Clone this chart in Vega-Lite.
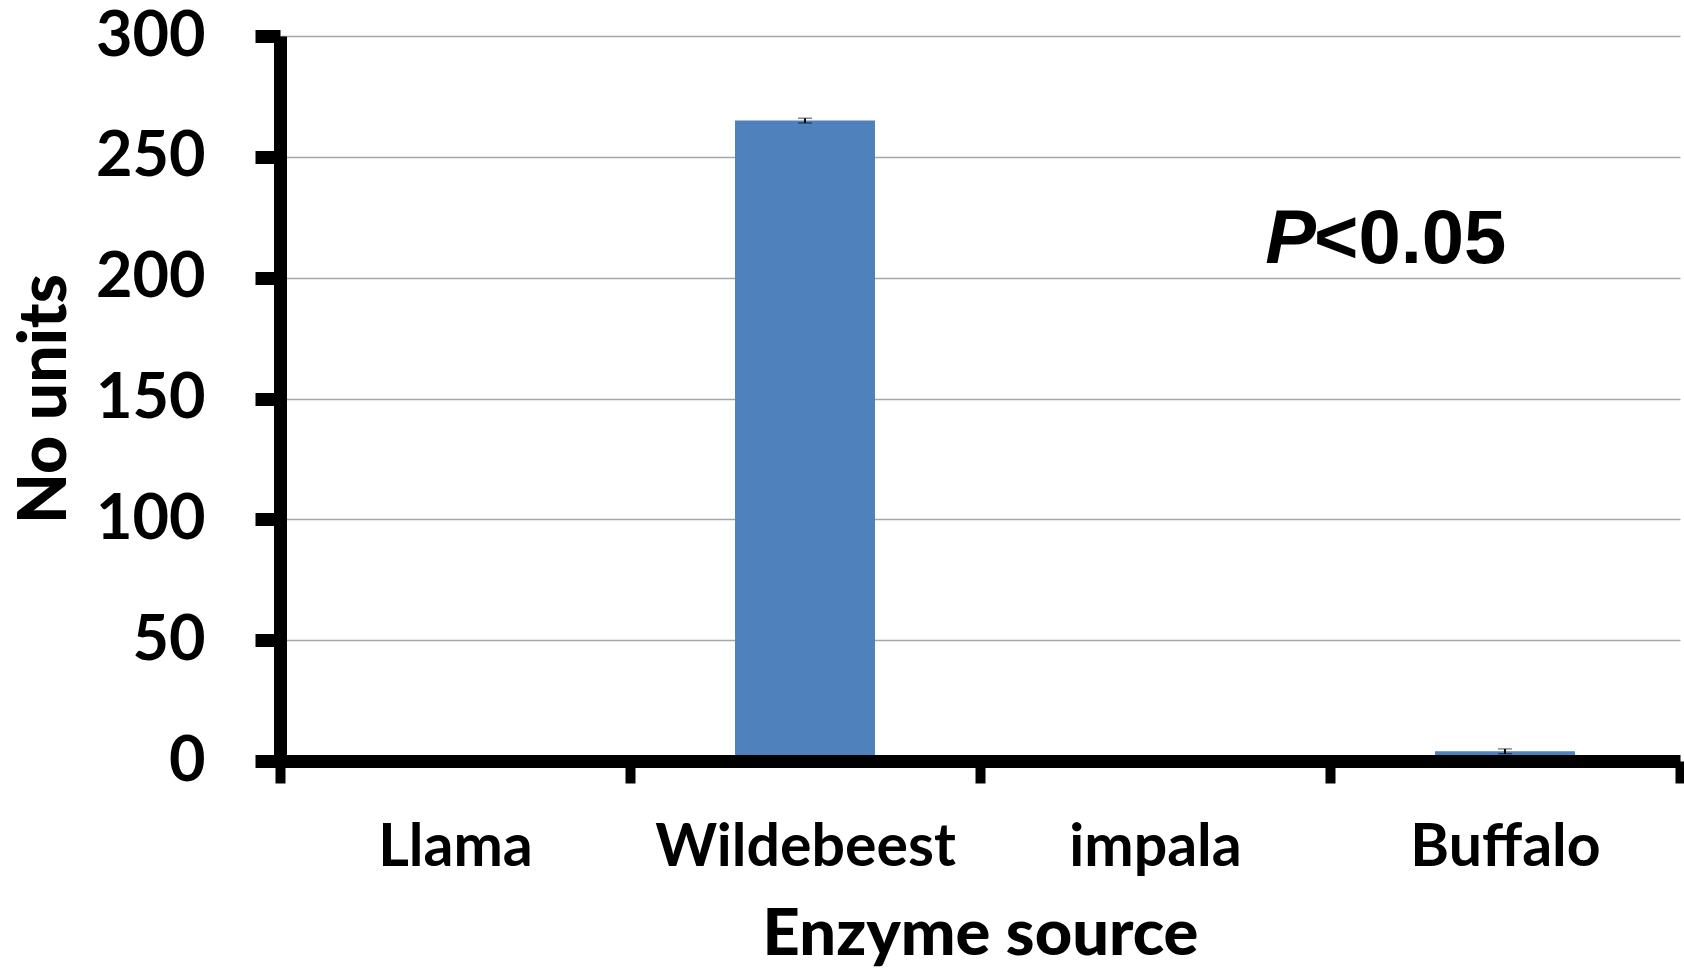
{
  "$schema": "https://vega.github.io/schema/vega-lite/v6.json",
  "width": 1400,
  "height": 725,
  "autosize": "none",
  "padding": {"left": 280, "top": 36, "right": 4, "bottom": 210},
  "background": "white",
  "data": {"values": [
    {"source": "Llama", "value": 0.5, "lo": 0.3, "hi": 0.7},
    {"source": "Wildebeest", "value": 265, "lo": 264, "hi": 266},
    {"source": "impala", "value": 0.3, "lo": 0.2, "hi": 0.4},
    {"source": "Buffalo", "value": 4, "lo": 3, "hi": 5}
  ]},
  "config": {
    "view": {"stroke": null},
    "font": "Lato"
  },
  "layer": [
    {
      "mark": {"type": "bar", "color": "#4F81BD", "width": {"band": 0.4}},
      "encoding": {
        "x": {
          "field": "source", "type": "nominal",
          "scale": {"domain": ["Llama", "Wildebeest", "impala", "Buffalo"], "paddingInner": 0, "paddingOuter": 0},
          "axis": {
            "title": "Enzyme source", "titleFont": "Lato", "titleFontSize": 65, "titleFontWeight": 900, "titleColor": "black", "titlePadding": 26,
            "labelAngle": 0, "labelFont": "Lato", "labelFontSize": 59, "labelFontWeight": "bold", "labelColor": "black", "labelPadding": 35, "labelLimit": 0,
            "domainColor": "black", "domainWidth": 13, "tickColor": "black", "tickWidth": 10, "tickSize": 22, "tickBand": "extent",
            "zindex": 1
          }
        },
        "y": {
          "field": "value", "type": "quantitative",
          "scale": {"domain": [0, 300], "nice": false},
          "axis": {
            "title": "No units", "titleFont": "Lato", "titleFontSize": 66, "titleFontWeight": 900, "titleColor": "black", "titlePadding": 16,
            "values": [0, 50, 100, 150, 200, 250, 300],
            "labelFont": "Lato", "labelFontSize": 63, "labelFontWeight": "bold", "labelColor": "black", "labelPadding": 50,
            "domainColor": "black", "domainWidth": 13, "tickColor": "black", "tickWidth": 13, "tickSize": 25,
            "grid": true, "gridColor": "#A6A6A6", "gridWidth": 1.5
          }
        }
      }
    },
    {
      "mark": {"type": "errorbar", "ticks": {"color": "black", "size": 14, "strokeWidth": 2}, "rule": {"color": "black", "strokeWidth": 2}},
      "encoding": {
        "x": {"field": "source", "type": "nominal"},
        "y": {"field": "lo", "type": "quantitative", "title": "No units"},
        "y2": {"field": "hi"}
      }
    },
    {
      "data": {"values": [{"label": "P", "cat": "Buffalo", "v": 206}]},
      "mark": {"type": "text", "font": "Liberation Sans", "fontSize": 76, "fontWeight": "bold", "fontStyle": "italic", "align": "right", "baseline": "alphabetic", "dx": -189, "color": "black"},
      "encoding": {
        "x": {"field": "cat", "type": "nominal"},
        "y": {"field": "v", "type": "quantitative"},
        "text": {"field": "label"}
      }
    },
    {
      "data": {"values": [{"label": "<0.05", "cat": "Buffalo", "v": 206}]},
      "mark": {"type": "text", "font": "Liberation Sans", "fontSize": 76, "fontWeight": "bold", "align": "left", "baseline": "alphabetic", "dx": -191, "color": "black"},
      "encoding": {
        "x": {"field": "cat", "type": "nominal"},
        "y": {"field": "v", "type": "quantitative"},
        "text": {"field": "label"}
      }
    }
  ]
}
